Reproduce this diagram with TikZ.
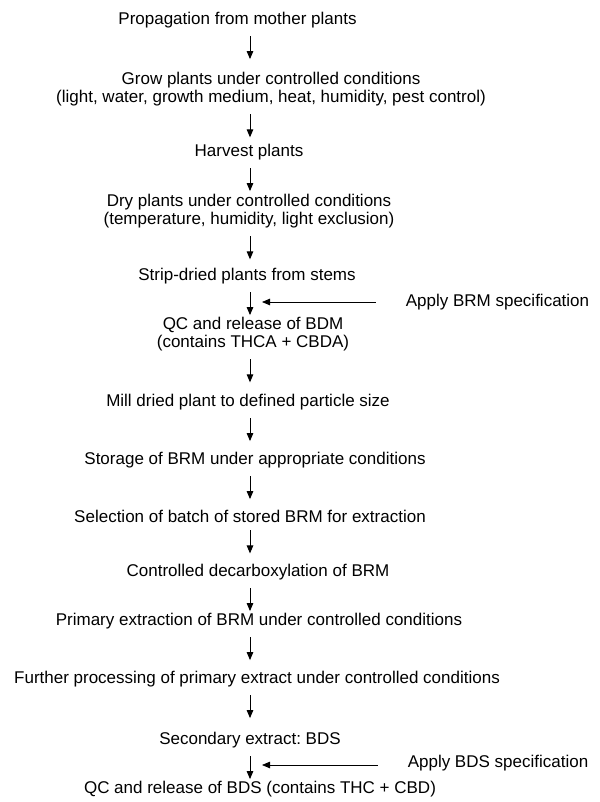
\documentclass[tikz,border=0pt]{standalone}
\usepackage{fontspec}
\setmainfont{Liberation Sans}
\frenchspacing
\usetikzlibrary{arrows.meta,positioning}

\begin{document}
\begin{tikzpicture}[x=1pt,y=-1pt,>={Triangle[length=8pt,width=6.5pt]},
    stage/.style={font=\fontsize{17}{18.5}\selectfont,align=center,inner sep=2pt},
    flow/.style={->,line width=1pt,
      to path={([yshift=-6pt]\tikztostart.south -| 250,0) -- ++(0,23)}},
    feed/.style={->,line width=0.8pt,shorten <=28pt}]
  \useasboundingbox (0,0) rectangle (599,802);
  \node[stage] (prop)      at (237.5,20) {Propagation from mother plants};
  \node[stage] (grow)      at (271,89)   {Grow plants under controlled conditions\\(light, water, growth medium, heat, humidity, pest control)};
  \node[stage] (harvest)   at (249,152)  {Harvest plants};
  \node[stage] (dry)       at (249,211)  {Dry plants under controlled conditions\\(temperature, humidity, light exclusion)};
  \node[stage] (strip)     at (247,276)  {Strip-dried plants from stems};
  \node[stage] (qcbdm)     at (253,334)  {QC and release of BDM\\(contains THCA + CBDA)};
  \node[stage] (mill)      at (248,402)  {Mill dried plant to defined particle size};
  \node[stage] (storage)   at (255,460)  {Storage of BRM under appropriate conditions};
  \node[stage] (selection) at (250,516)  {Selection of batch of stored BRM for extraction};
  \node[stage] (decarb)    at (258,572)  {Controlled decarboxylation of BRM};
  \node[stage] (primary)   at (259,621)  {Primary extraction of BRM under controlled conditions};
  \node[stage] (further)   at (257,679)  {Further processing of primary extract under controlled conditions};
  \node[stage] (secondary) at (250,740)  {Secondary extract: BDS};
  \node[stage] (qcbds)     at (260,789)  {QC and release of BDS (contains THC + CBD)};
  \node[stage] (applybrm)  at (497.5,302) {Apply BRM specification};
  \node[stage] (applybds)  at (498,763)  {Apply BDS specification};
  \coordinate (brmjoin) at (262,302);
  \coordinate (bdsjoin) at (262,765);
  % main line
  \foreach \a/\b in {prop/grow,grow/harvest,harvest/dry,dry/strip,strip/qcbdm,
      qcbdm/mill,mill/storage,storage/selection,selection/decarb,decarb/primary,
      primary/further,further/secondary,secondary/qcbds}
    \draw[flow] (\a) to (\b);
  % specifications
  \draw[feed] (applybrm.west) -- (brmjoin);
  \draw[feed] (applybds.west |- bdsjoin) -- (bdsjoin);
\end{tikzpicture}
\end{document}
